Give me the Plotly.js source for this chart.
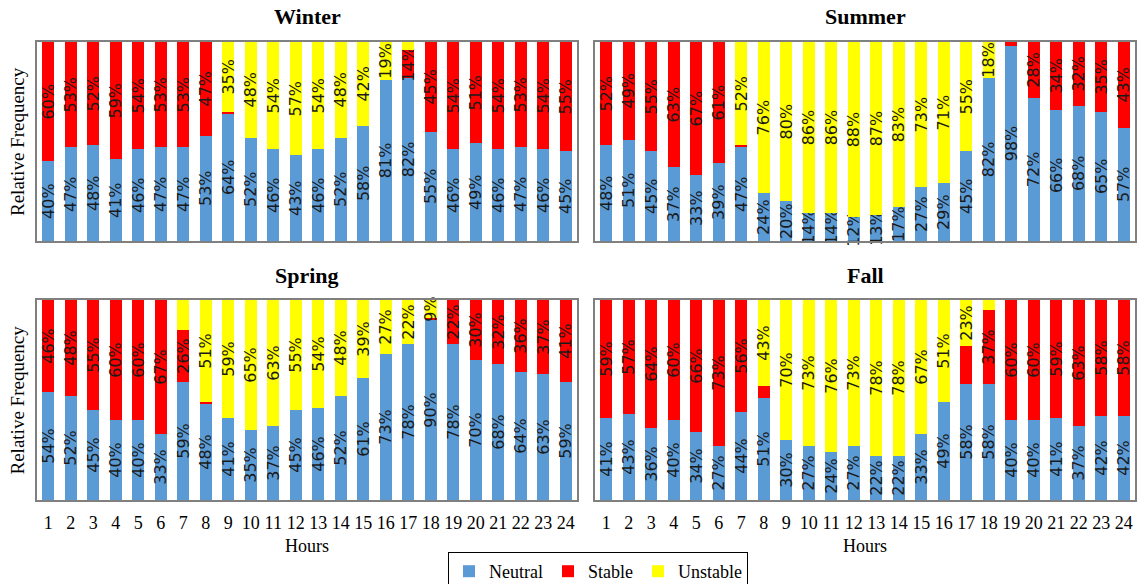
<!DOCTYPE html>
<html>
<head>
<meta charset="utf-8">
<script src="https://cdn.plot.ly/plotly-3.0.1.min.js"></script>
<style>html,body{margin:0;padding:0;background:#fff;}#chart{width:1138px;height:584px;}</style>
</head>
<body>
<div id="chart"></div>
<script>
const hours = [1,2,3,4,5,6,7,8,9,10,11,12,13,14,15,16,17,18,19,20,21,22,23,24];
const seriesNames = ['Neutral','Stable','Unstable'];

const winterNeutral  = [40,47,48,41,46,47,47,53,64,52,46,43,46,52,58,81,82,55,46,49,46,47,46,45];
const winterStable   = [60,53,52,59,54,53,53,47,1,0,0,0,0,0,0,0,14,45,54,51,54,53,54,55];
const winterUnstable = [0,0,0,0,0,0,0,0,35,48,54,57,54,48,42,19,4,0,0,0,0,0,0,0];

const summerNeutral  = [48,51,45,37,33,39,47,24,20,14,14,12,13,17,27,29,45,82,98,72,66,68,65,57];
const summerStable   = [52,49,55,63,67,61,1,0,0,0,0,0,0,0,0,0,0,0,2,28,34,32,35,43];
const summerUnstable = [0,0,0,0,0,0,52,76,80,86,86,88,87,83,73,71,55,18,0,0,0,0,0,0];

const springNeutral  = [54,52,45,40,40,33,59,48,41,35,37,45,46,52,61,73,78,90,78,70,68,64,63,59];
const springStable   = [46,48,55,60,60,67,26,1,0,0,0,0,0,0,0,0,0,1,22,30,32,36,37,41];
const springUnstable = [0,0,0,0,0,0,15,51,59,65,63,55,54,48,39,27,22,9,0,0,0,0,0,0];

const fallNeutral  = [41,43,36,40,34,27,44,51,30,27,24,27,22,22,33,49,58,58,40,40,41,37,42,42];
const fallStable   = [59,57,64,60,66,73,56,6,0,0,0,0,0,0,0,0,19,37,60,60,59,63,58,58];
const fallUnstable = [0,0,0,0,0,0,0,43,70,73,76,73,78,78,67,51,23,5,0,0,0,0,0,0];

// segments whose data label is not shown in the original: [series, hour]
const winterHidden = [['Stable',9],['Unstable',17]];
const summerHidden = [['Stable',7],['Stable',19]];
const springHidden = [['Stable',8],['Unstable',7],['Stable',18]];
const fallHidden   = [['Stable',8],['Stable',17],['Unstable',18]];

const colors = {Neutral:'#5b9bd5', Stable:'#ff0000', Unstable:'#ffff00'};

const panels = [
  {name:'Winter', data:[winterNeutral,winterStable,winterUnstable], hidden:winterHidden, xa:'x',  ya:'y'},
  {name:'Summer', data:[summerNeutral,summerStable,summerUnstable], hidden:summerHidden, xa:'x2', ya:'y2'},
  {name:'Spring', data:[springNeutral,springStable,springUnstable], hidden:springHidden, xa:'x3', ya:'y3'},
  {name:'Fall',   data:[fallNeutral,fallStable,fallUnstable],       hidden:fallHidden,   xa:'x4', ya:'y4'}
];

const serif = 'Liberation Serif';
const traces = [];
panels.forEach((p, pi) => {
  seriesNames.forEach((s, si) => {
    const vals = p.data[si];
    const txt = vals.map((v, i) => {
      if (v === 0) return '';
      if (p.hidden.some(h => h[0] === s && h[1] === hours[i])) return '';
      return v + '%';
    });
    traces.push({
      type:'bar', name:s, x:hours, y:vals, xaxis:p.xa, yaxis:p.ya,
      marker:{color:colors[s], line:{width:0}},
      text:txt, textposition:'inside', insidetextanchor:'middle', textangle:-90,
      constraintext:'none', cliponaxis:false,
      insidetextfont:{family:'DejaVu Sans', size:16, color:'#1a1a1a'},
      hoverinfo:'skip',
      showlegend: pi === 0, legendgroup:s
    });
  });
});

const W = 1138, H = 584;
const mL = 37, mR = 3, mT = 42, mB = 84;
const pw = W - mL - mR, ph = H - mT - mB;
const xL = [0, 540/pw], xR = [558/pw, 1];
const yTop = [(500-241)/ph, 1], yBot = [0, 200/ph];

function xaxis(dom, anchor, showLabels) {
  return {domain:dom, anchor:anchor, range:[0.5,24.5], tickmode:'array', tickvals:hours,
    ticktext:hours.map(String), showticklabels:showLabels, ticks:'', ticklabelstandoff:5,
    tickfont:{family:serif, size:18, color:'#000'}, automargin:false,
    showline:true, mirror:true, linecolor:'#808080', linewidth:2, showgrid:false, zeroline:false,
    fixedrange:true};
}
function yaxis(dom, anchor) {
  return {domain:dom, anchor:anchor, range:[0,100], showticklabels:false, ticks:'',
    showline:true, mirror:true, linecolor:'#808080', linewidth:2, showgrid:false, zeroline:false,
    fixedrange:true, automargin:false};
}

const titleFont = {family:serif, size:22, color:'#000'};
const labelFont = {family:serif, size:18, color:'#000'};
const annotations = [];
panels.forEach((p, i) => {
  const dom = (i % 2 === 0) ? xL : xR;
  const yPix = i < 2 ? 17 : 275;
  annotations.push({text:'<b>' + p.name + '</b>', xref:'paper', yref:'paper',
    x:(dom[0]+dom[1])/2, y:(500 - yPix)/ph, xanchor:'center', yanchor:'middle',
    showarrow:false, font:titleFont});
  if (i >= 2) {
    annotations.push({text:'Hours', xref:'paper', yref:'paper',
      x:(dom[0]+dom[1])/2, y:(500 - 546)/ph, xanchor:'center', yanchor:'middle',
      showarrow:false, font:labelFont});
  }
  if (i % 2 === 0) {
    const yc = i < 2 ? 141.5 : 400;
    annotations.push({text:'Relative Frequency', xref:'paper', yref:'paper', textangle:-90,
      x:(17.5 - mL)/pw, y:(500 - yc)/ph, xanchor:'center', yanchor:'middle',
      showarrow:false, font:{family:serif, size:19, color:'#000'}});
  }
});

const layout = {
  width:W, height:H, margin:{l:mL, r:mR, t:mT, b:mB, autoexpand:false},
  font:{family:serif, color:'#000'},
  paper_bgcolor:'#fff', plot_bgcolor:'#fff',
  barmode:'stack', bargap:0.47,
  xaxis: xaxis(xL, 'y', false),  yaxis: yaxis(yTop, 'x'),
  xaxis2: xaxis(xR, 'y2', false), yaxis2: yaxis(yTop, 'x2'),
  xaxis3: xaxis(xL, 'y3', true), yaxis3: yaxis(yBot, 'x3'),
  xaxis4: xaxis(xR, 'y4', true), yaxis4: yaxis(yBot, 'x4'),
  annotations: annotations,
  showlegend:true,
  legend:{orientation:'h', x:(598-mL)/pw, xanchor:'center', y:(500-552)/ph, yanchor:'top',
    bordercolor:'#000', borderwidth:1, bgcolor:'#fff',
    font:{family:serif, size:18, color:'#000'}, traceorder:'normal', itemclick:false}
};

Plotly.newPlot('chart', traces, layout, {staticPlot:true, displayModeBar:false});
</script>
</body>
</html>
